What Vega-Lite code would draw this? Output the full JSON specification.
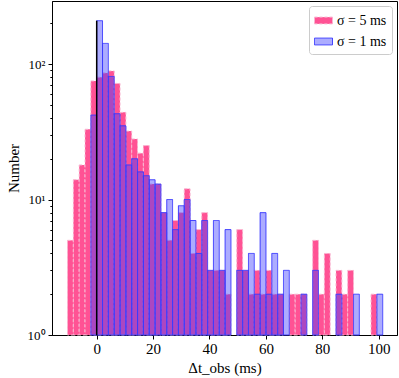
{
  "$schema": "https://vega.github.io/schema/vega-lite/v6.json",
  "width": 345,
  "height": 334,
  "autosize": {"type": "none"},
  "padding": {"left": 52, "top": 1, "right": 2, "bottom": 43},
  "background": "white",
  "config": {
    "font": "Liberation Serif",
    "view": {"stroke": "black", "strokeWidth": 1},
    "axis": {
      "grid": false,
      "domainColor": "black",
      "tickColor": "black",
      "labelColor": "black",
      "titleColor": "black",
      "labelFont": "Liberation Serif",
      "titleFont": "Liberation Serif",
      "titleFontWeight": "normal"
    },
    "legend": {
      "labelFont": "Liberation Serif",
      "labelColor": "black"
    }
  },
  "datasets": {
    "hist": [
      {"s": "σ = 5 ms", "x0": -10.35, "x1": -8.28, "n": 5},
      {"s": "σ = 5 ms", "x0": -8.28, "x1": -6.21, "n": 14},
      {"s": "σ = 5 ms", "x0": -6.21, "x1": -4.14, "n": 18},
      {"s": "σ = 5 ms", "x0": -4.14, "x1": -2.07, "n": 33},
      {"s": "σ = 5 ms", "x0": -2.07, "x1": 0, "n": 75},
      {"s": "σ = 5 ms", "x0": 0, "x1": 2.07, "n": 80},
      {"s": "σ = 5 ms", "x0": 2.07, "x1": 4.14, "n": 86},
      {"s": "σ = 5 ms", "x0": 4.14, "x1": 6.21, "n": 89},
      {"s": "σ = 5 ms", "x0": 6.21, "x1": 8.28, "n": 72},
      {"s": "σ = 5 ms", "x0": 8.28, "x1": 10.35, "n": 44},
      {"s": "σ = 5 ms", "x0": 10.35, "x1": 12.42, "n": 32},
      {"s": "σ = 5 ms", "x0": 12.42, "x1": 14.49, "n": 28},
      {"s": "σ = 5 ms", "x0": 14.49, "x1": 16.56, "n": 22},
      {"s": "σ = 5 ms", "x0": 16.56, "x1": 18.63, "n": 25},
      {"s": "σ = 5 ms", "x0": 18.63, "x1": 20.7, "n": 13},
      {"s": "σ = 5 ms", "x0": 20.7, "x1": 22.77, "n": 13},
      {"s": "σ = 5 ms", "x0": 22.77, "x1": 24.84, "n": 8},
      {"s": "σ = 5 ms", "x0": 24.84, "x1": 26.91, "n": 5},
      {"s": "σ = 5 ms", "x0": 26.91, "x1": 28.98, "n": 7},
      {"s": "σ = 5 ms", "x0": 28.98, "x1": 31.05, "n": 8},
      {"s": "σ = 5 ms", "x0": 31.05, "x1": 33.12, "n": 12},
      {"s": "σ = 5 ms", "x0": 33.12, "x1": 35.19, "n": 4},
      {"s": "σ = 5 ms", "x0": 35.19, "x1": 37.26, "n": 6},
      {"s": "σ = 5 ms", "x0": 37.26, "x1": 39.33, "n": 8},
      {"s": "σ = 5 ms", "x0": 39.33, "x1": 41.4, "n": 3},
      {"s": "σ = 5 ms", "x0": 41.4, "x1": 43.47, "n": 3},
      {"s": "σ = 5 ms", "x0": 43.47, "x1": 45.54, "n": 3},
      {"s": "σ = 5 ms", "x0": 45.54, "x1": 47.61, "n": 2},
      {"s": "σ = 5 ms", "x0": 49.68, "x1": 51.75, "n": 6},
      {"s": "σ = 5 ms", "x0": 51.75, "x1": 53.82, "n": 3},
      {"s": "σ = 5 ms", "x0": 53.82, "x1": 55.89, "n": 2},
      {"s": "σ = 5 ms", "x0": 55.89, "x1": 57.96, "n": 3},
      {"s": "σ = 5 ms", "x0": 57.96, "x1": 60.03, "n": 2},
      {"s": "σ = 5 ms", "x0": 60.03, "x1": 62.1, "n": 3},
      {"s": "σ = 5 ms", "x0": 62.1, "x1": 64.17, "n": 2},
      {"s": "σ = 5 ms", "x0": 64.17, "x1": 66.24, "n": 2},
      {"s": "σ = 5 ms", "x0": 68.31, "x1": 70.38, "n": 2},
      {"s": "σ = 5 ms", "x0": 70.38, "x1": 72.45, "n": 2},
      {"s": "σ = 5 ms", "x0": 72.45, "x1": 74.52, "n": 2},
      {"s": "σ = 5 ms", "x0": 76.59, "x1": 78.66, "n": 5},
      {"s": "σ = 5 ms", "x0": 78.66, "x1": 80.73, "n": 2},
      {"s": "σ = 5 ms", "x0": 80.73, "x1": 82.8, "n": 4},
      {"s": "σ = 5 ms", "x0": 84.87, "x1": 86.94, "n": 3},
      {"s": "σ = 5 ms", "x0": 86.94, "x1": 89.01, "n": 2},
      {"s": "σ = 5 ms", "x0": 89.01, "x1": 91.08, "n": 3},
      {"s": "σ = 5 ms", "x0": 97.29, "x1": 99.36, "n": 2},
      {"s": "σ = 1 ms", "x0": -2.07, "x1": 0, "n": 42},
      {"s": "σ = 1 ms", "x0": 0, "x1": 2.07, "n": 209},
      {"s": "σ = 1 ms", "x0": 2.07, "x1": 4.14, "n": 142},
      {"s": "σ = 1 ms", "x0": 4.14, "x1": 6.21, "n": 81},
      {"s": "σ = 1 ms", "x0": 6.21, "x1": 8.28, "n": 43},
      {"s": "σ = 1 ms", "x0": 8.28, "x1": 10.35, "n": 35},
      {"s": "σ = 1 ms", "x0": 10.35, "x1": 12.42, "n": 18},
      {"s": "σ = 1 ms", "x0": 12.42, "x1": 14.49, "n": 20},
      {"s": "σ = 1 ms", "x0": 14.49, "x1": 16.56, "n": 16},
      {"s": "σ = 1 ms", "x0": 16.56, "x1": 18.63, "n": 15},
      {"s": "σ = 1 ms", "x0": 18.63, "x1": 20.7, "n": 14},
      {"s": "σ = 1 ms", "x0": 20.7, "x1": 22.77, "n": 13},
      {"s": "σ = 1 ms", "x0": 22.77, "x1": 24.84, "n": 8},
      {"s": "σ = 1 ms", "x0": 24.84, "x1": 26.91, "n": 10},
      {"s": "σ = 1 ms", "x0": 26.91, "x1": 28.98, "n": 6},
      {"s": "σ = 1 ms", "x0": 28.98, "x1": 31.05, "n": 9},
      {"s": "σ = 1 ms", "x0": 31.05, "x1": 33.12, "n": 10},
      {"s": "σ = 1 ms", "x0": 33.12, "x1": 35.19, "n": 7},
      {"s": "σ = 1 ms", "x0": 35.19, "x1": 37.26, "n": 4},
      {"s": "σ = 1 ms", "x0": 37.26, "x1": 39.33, "n": 7},
      {"s": "σ = 1 ms", "x0": 39.33, "x1": 41.4, "n": 3},
      {"s": "σ = 1 ms", "x0": 41.4, "x1": 43.47, "n": 7},
      {"s": "σ = 1 ms", "x0": 43.47, "x1": 45.54, "n": 3},
      {"s": "σ = 1 ms", "x0": 45.54, "x1": 47.61, "n": 6},
      {"s": "σ = 1 ms", "x0": 49.68, "x1": 51.75, "n": 3},
      {"s": "σ = 1 ms", "x0": 51.75, "x1": 53.82, "n": 3},
      {"s": "σ = 1 ms", "x0": 53.82, "x1": 55.89, "n": 4},
      {"s": "σ = 1 ms", "x0": 55.89, "x1": 57.96, "n": 2},
      {"s": "σ = 1 ms", "x0": 57.96, "x1": 60.03, "n": 8},
      {"s": "σ = 1 ms", "x0": 60.03, "x1": 62.1, "n": 2},
      {"s": "σ = 1 ms", "x0": 62.1, "x1": 64.17, "n": 4},
      {"s": "σ = 1 ms", "x0": 64.17, "x1": 66.24, "n": 2},
      {"s": "σ = 1 ms", "x0": 66.24, "x1": 68.31, "n": 3},
      {"s": "σ = 1 ms", "x0": 72.45, "x1": 74.52, "n": 2},
      {"s": "σ = 1 ms", "x0": 76.59, "x1": 78.66, "n": 3},
      {"s": "σ = 1 ms", "x0": 84.87, "x1": 86.94, "n": 2},
      {"s": "σ = 1 ms", "x0": 91.08, "x1": 93.15, "n": 2},
      {"s": "σ = 1 ms", "x0": 99.36, "x1": 101.43, "n": 2}
    ]
  },
  "layer": [
    {
      "data": {"name": "hist"},
      "mark": {"type": "bar", "strokeWidth": 1},
      "encoding": {
        "x": {
          "field": "x0",
          "type": "quantitative",
          "scale": {"domain": [-15.85, 106.5], "nice": false, "zero": false},
          "axis": {
            "values": [0, 20, 40, 60, 80, 100],
            "title": "Δt_obs (ms)",
            "labelFontSize": 15,
            "titleFontSize": 15,
            "tickSize": 4,
            "labelPadding": 2,
            "titlePadding": 4
          }
        },
        "x2": {"field": "x1"},
        "y": {
          "field": "n",
          "type": "quantitative",
          "scale": {"type": "log", "domain": [1, 292], "nice": false},
          "axis": {
            "values": [1, 2, 3, 4, 5, 6, 7, 8, 9, 10, 20, 30, 40, 50, 60, 70, 80, 90, 100, 200],
            "labelExpr": "datum.value == 1 ? '10⁰' : datum.value == 10 ? '10¹' : datum.value == 100 ? '10²' : ''",
            "labelOverlap": false,
            "labelFontSize": 13,
            "labelPadding": 3,
            "tickSize": {"condition": {"test": "datum.value == 1 || datum.value == 10 || datum.value == 100", "value": 4}, "value": 2.2},
            "title": "Number",
            "titleFontSize": 15,
            "titlePadding": 6
          }
        },
        "y2": {"datum": 1},
        "fill": {
          "field": "s",
          "type": "nominal",
          "scale": {"domain": ["σ = 5 ms", "σ = 1 ms"], "range": ["#ff5294", "#3a3aff"]},
          "legend": {
            "title": null,
            "orient": "top-right",
            "offset": 5,
            "symbolType": "M-1,-0.38H1V0.38H-1Z",
            "symbolSize": 324,
            "symbolStrokeWidth": 1,
            "labelFontSize": 14,
            "padding": 5,
            "rowPadding": 4,
            "strokeColor": "#cccccc",
            "fillColor": "white",
            "cornerRadius": 3,
            "encode": {
              "symbols": {
                "update": {
                  "fillOpacity": {"signal": "datum.value == 'σ = 1 ms' ? 0.42 : 1"}
                }
              }
            }
          }
        },
        "fillOpacity": {
          "field": "s",
          "type": "nominal",
          "scale": {"domain": ["σ = 5 ms", "σ = 1 ms"], "range": [1, 0.42]}
        },
        "stroke": {
          "field": "s",
          "type": "nominal",
          "scale": {"domain": ["σ = 5 ms", "σ = 1 ms"], "range": ["#f7b8d2", "#3a3aff"]}
        },
        "strokeDash": {
          "field": "s",
          "type": "nominal",
          "scale": {"domain": ["σ = 5 ms", "σ = 1 ms"], "range": [[3, 2], [1, 0]]}
        }
      }
    },
    {
      "data": {"values": [{}]},
      "mark": {"type": "rule", "color": "black", "strokeWidth": 1.5},
      "encoding": {
        "x": {"datum": 0},
        "y": {"datum": 1},
        "y2": {"datum": 209}
      }
    }
  ]
}
